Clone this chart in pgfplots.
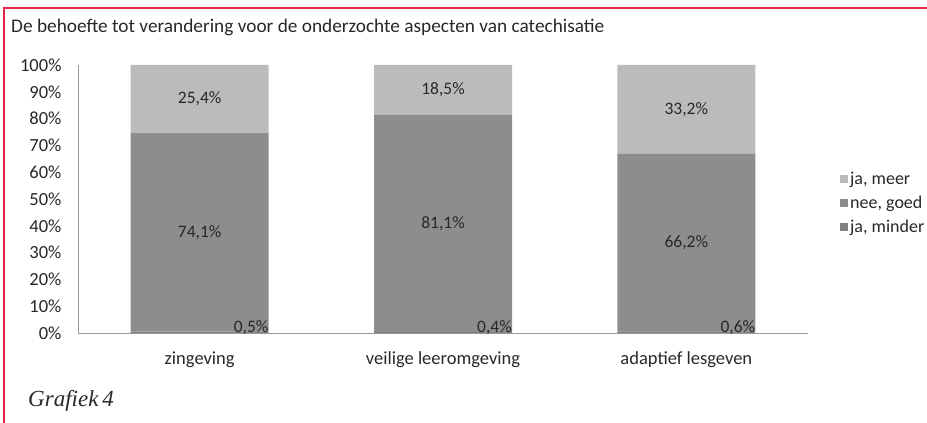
\documentclass[border=0pt]{standalone}
\usepackage{pgfplots}
\pgfplotsset{compat=1.18}
\usepackage{pgfplotstable}
\usepackage{fontspec}
\setmainfont{Carlito}
\newfontfamily\timesfont{Liberation Serif}
\definecolor{meer}{RGB}{187,187,190}
\definecolor{goed}{RGB}{141,141,143}
\definecolor{minder}{RGB}{128,128,130}
\definecolor{framered}{RGB}{228,40,72}
\definecolor{txt}{RGB}{40,40,40}
\pgfplotstableread{
x minder goed meer
0 0.5 74.1 25.4
1 0.4 81.1 18.5
2 0.6 66.2 33.2
}\data
\begin{document}
\begin{tikzpicture}[x=1pt,y=1pt]
\path[use as bounding box] (0,0) rectangle (927,423);
\draw[framered, line width=1.5pt] (4,0) -- (4,415) -- (927,415);
\node[anchor=base west, inner sep=0pt, font=\fontsize{19.3}{22}\selectfont, text=txt] at (11,390) {De behoefte tot verandering voor de onderzochte aspecten van catechisatie};
\node[anchor=base west, inner sep=0pt, font=\fontsize{23}{27}\selectfont\timesfont\itshape, text=txt] at (28,16) {Grafiek\,4};
\begin{axis}[
  at={(78pt,90pt)}, anchor=south west,
  scale only axis, width=730pt, height=268pt,
  ybar stacked, bar width=138pt,
  xmin=-0.5, xmax=2.5, ymin=0, ymax=100,
  xtick={0,1,2}, xticklabels={zingeving, veilige leeromgeving, adaptief lesgeven},
  ytick={0,10,...,100},
  yticklabels={0\%,10\%,20\%,30\%,40\%,50\%,60\%,70\%,80\%,90\%,100\%},
  axis x line*=bottom, axis y line*=left,
  axis line style={draw=gray!80, line width=0.8pt, -},
  major tick length=0pt,
  tick label style={font=\fontsize{18.5}{21}\selectfont, text=txt},
  yticklabel style={xshift=-13pt},
  xticklabel style={yshift=-15pt},
  /pgf/number format/assume math mode=true,
  legend style={at={(1.0397,0.615)}, anchor=north west, draw=none, fill=none,
    font=\fontsize{18}{21}\selectfont, text=txt, row sep=6pt,
    nodes={inner sep=2pt}},
  legend cell align=left,
  reverse legend,
  legend image code/.code={\fill[#1] (0pt,-4pt) rectangle (8pt,4pt);},
]
\addplot[fill=minder, draw=none, point meta=explicit symbolic,
  nodes near coords={\pgfmathprintnumber[fixed,precision=1,fixed zerofill,use comma,assume math mode=true]{\pgfplotspointmeta}\%},
  every node near coord/.append style={anchor=base east, xshift=69pt, inner sep=0pt, font=\fontsize{17.5}{20}\selectfont, text=txt}]
  table[x=x, y=minder, meta=minder]{\data};
\addplot[fill=goed, draw=none, point meta=explicit symbolic,
  nodes near coords={\pgfmathprintnumber[fixed,precision=1,fixed zerofill,use comma,assume math mode=true]{\pgfplotspointmeta}\%},
  every node near coord/.append style={anchor=center, font=\fontsize{17.5}{20}\selectfont, text=txt}]
  table[x=x, y=goed, meta=goed]{\data};
\addplot[fill=meer, draw=none, point meta=explicit symbolic,
  nodes near coords={\pgfmathprintnumber[fixed,precision=1,fixed zerofill,use comma,assume math mode=true]{\pgfplotspointmeta}\%},
  every node near coord/.append style={anchor=center, font=\fontsize{17.5}{20}\selectfont, text=txt}]
  table[x=x, y=meer, meta=meer]{\data};
\legend{{ja, minder}, {nee, goed}, {ja, meer}}
\end{axis}
\end{tikzpicture}
\end{document}
